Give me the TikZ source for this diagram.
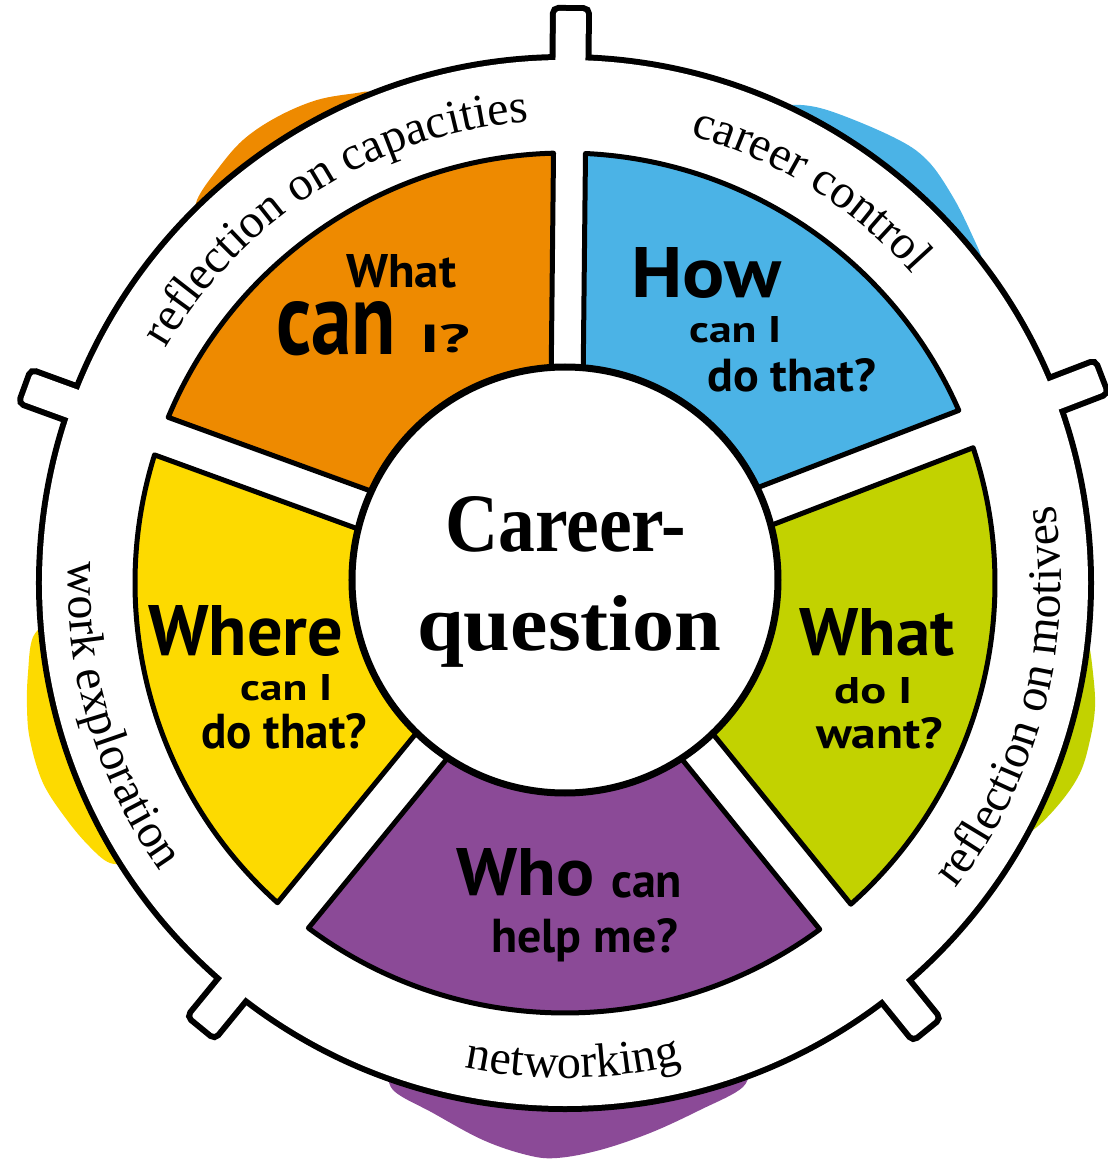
\documentclass[tikz,border=0pt]{standalone}
\usepackage{fontspec}
\usepackage{graphicx}
\usetikzlibrary{decorations.text}
\newfontfamily\ringfont{Liberation Serif}
\newfontfamily\segfont{PT Sans}
\newfontfamily\centerfont{Liberation Serif}
\definecolor{cOrange}{HTML}{EE8A00}
\definecolor{cBlue}{HTML}{4BB3E6}
\definecolor{cYellow}{HTML}{FDDA00}
\definecolor{cGreen}{HTML}{C2D200}
\definecolor{cPurple}{HTML}{8B4A97}
\newcommand{\ringtxt}{\ringfont\fontsize{48pt}{48pt}\selectfont}
\newcommand{\fitto}[3]{\resizebox{#1pt}{#2pt}{#3}}
\newcommand{\wheelseg}[5]{%
  \filldraw[segline, fill=#1]
    ({#2+asin(#3/430)}:430) arc[start angle={#2+asin(#3/430)}, end angle={#4-asin(#5/430)}, radius=430]
    -- ({#4-asin(#5/150)}:150) arc[start angle={#4-asin(#5/150)}, end angle={#2+asin(#3/150)}, radius=150]
    -- cycle;}
\begin{document}
\begin{tikzpicture}[x=1pt,y=1pt,
  segline/.style={draw=black, line width=5pt, line join=round},
  lbl/.style={inner sep=0pt, anchor=base west, font=\segfont\bfseries\fontsize{40pt}{40pt}\selectfont},
  clbl/.style={inner sep=0pt, anchor=base west, font=\centerfont\bfseries\fontsize{60pt}{60pt}\selectfont},
  ringlbl/.style={decorate, decoration={text along path, text align=center, text={#1}}}
]
\useasboundingbox (-565,-576) rectangle (543,583);

% background blobs
\fill[cOrange] (123:430) -- plot[smooth, tension=0.6] coordinates {(136:515) (-368,383) (-348,413) (-322,443) (-288,466) (-248,483) (-208,490) (-195,491) (110:515)} -- cycle;
\fill[cBlue] (51:430) -- plot[smooth, tension=0.6] coordinates {(66:515) (225,478) (262,473) (328,446) (362,423) (388,386) (408,346) (417,323) (36:515)} -- cycle;
\fill[cYellow] (198:430) -- plot[smooth, tension=0.6] coordinates {(184:515) (-532,-54) (-537,-90) (-538,-124) (-535,-157) (-522,-200) (-498,-237) (-475,-264) (-455,-280) (213:515)} -- cycle;
\fill[cGreen] (-16:430) -- plot[smooth, tension=0.6] coordinates {(-4:515) (523,-57) (528,-90) (530,-124) (525,-157) (515,-190) (495,-220) (468,-247) (-29:515)} -- cycle;
\fill[cPurple] (270:430) -- plot[smooth, tension=0.6] coordinates {(250:515) (-172,-507) (-132,-530) (-82,-557) (-38,-572) (-8,-575) (35,-567) (85,-550) (135,-527) (178,-504) (291:515)} -- cycle;

% outer ring with tabs (thick outline, then white fill)
\draw[line width=12pt] (0,0) circle[radius=523];
\foreach \a in {89.4,160,230.7,309,21}
  \draw[line width=12pt, rounded corners=3pt, rotate=\a] (480,-15) rectangle (572,15);
\fill[white] (0,0) circle[radius=523];
\foreach \a in {89.4,160,230.7,309,21}
  \fill[white, rounded corners=3pt, rotate=\a] (480,-15) rectangle (572,15);

% segments
\wheelseg{cBlue}{21}{20}{89.4}{16}
\wheelseg{cOrange}{89.4}{16}{160}{20}
\wheelseg{cYellow}{160}{20}{230.7}{20}
\wheelseg{cPurple}{230.7}{20}{309}{20}
\wheelseg{cGreen}{309}{20}{381}{20}

% central circle
\filldraw[fill=white, draw=black, line width=7pt] (0,3) circle[radius=213];

% ring labels
\path[ringlbl={|\ringtxt|reflection on capacities}] (153:463) arc[start angle=153, end angle=91, radius=463];
\path[ringlbl={|\ringtxt|career control}] (80:465) arc[start angle=80, end angle=36, radius=465];
\path[ringlbl={|\ringtxt|reflection on motives}] (-46:496) arc[start angle=-46, end angle=17, radius=496];
\path[ringlbl={|\ringtxt|work exploration}] (168:497) arc[start angle=168, end angle=225, radius=497];
\path[ringlbl={|\ringtxt|networking}] (253:495) arc[start angle=253, end angle=289, radius=495];

% segment labels
\node[lbl] (o1) at (-219,295) {\fitto{110}{33}{What}};
\node[lbl] (o2) at (-289,228) {\fitto{120}{53}{can}};
\node[lbl] (o3) at (-145,230) {\fitto{50}{28}{I?}};
\node[lbl] (b1) at (66,285) {\fitto{150}{50}{How}};
\node[lbl] (b2) at (124,240) {\fitto{92}{26}{can I}};
\node[lbl] (b3) at (142,191) {\fitto{169}{33}{do that?}};
\node[lbl] (y1) at (-417,-72) {\fitto{195}{50}{Where}};
\node[lbl] (y2) at (-325,-117) {\fitto{92}{26}{can I}};
\node[lbl] (y3) at (-364,-165) {\fitto{166}{35}{do that?}};
\node[lbl] (g1) at (234,-72) {\fitto{155}{47}{What}};
\node[lbl] (g2) at (269,-120) {\fitto{78}{26}{do I}};
\node[lbl] (g3) at (251,-165) {\fitto{127}{31}{want?}};
\node[lbl] (p1) at (-109,-312) {\fitto{138}{47}{Who}};
\node[lbl] (p2) at (46,-314) {\fitto{71}{25}{can}};
\node[lbl] (p3) at (-74,-369) {\fitto{187}{34}{help me?}};

% centre labels
\node[clbl] (c1) at (-120,31) {\fitto{241}{55}{Career-}};
\node[clbl] (c2) at (-148,-67) {\fitto{304}{55}{question}};
\end{tikzpicture}
\end{document}
